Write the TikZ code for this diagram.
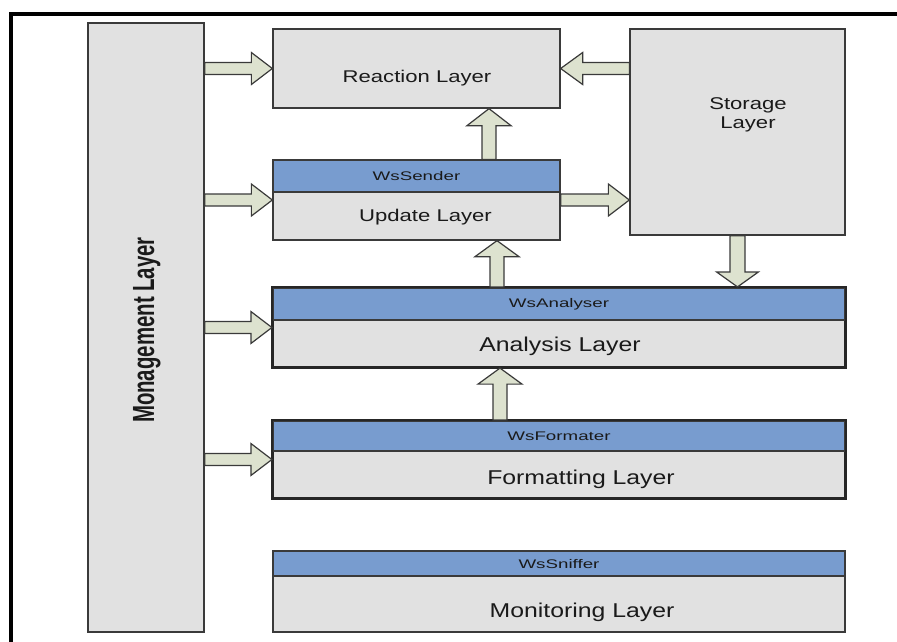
\documentclass[tikz,border=0pt]{standalone}
\usepackage{fontspec}
\setmainfont{Liberation Sans}
\newfontfamily\wideface[FakeStretch=1.3]{Liberation Sans}
\newfontfamily\midface[FakeStretch=1.24]{Liberation Sans}
\newfontfamily\hdrface[FakeStretch=1.5]{Liberation Sans}
\usetikzlibrary{calc}

\definecolor{boxgray}{HTML}{E1E1E1}
\definecolor{hdrblue}{HTML}{789CCF}
\definecolor{arrowfill}{HTML}{DDE2CF}
\definecolor{edge}{HTML}{3A3A3A}
\definecolor{ink}{HTML}{1A1A1A}

% Outlined block arrow from coordinate #1 to tip #2:
% #3 shaft half-width, #4 head half-width, #5 head length
\newcommand\blockarrow[5]{%
  \coordinate (ba-h) at ($(#2)!#5!(#1)$);
  \draw[arrowbody]
    ($(#1)!#3!90:(#2)$) -- ($(ba-h)!#3!90:(#2)$) -- ($(ba-h)!#4!90:(#2)$)
    -- (#2)
    -- ($(ba-h)!#4!-90:(#2)$) -- ($(ba-h)!#3!-90:(#2)$) -- ($(#1)!#3!-90:(#2)$)
    -- cycle;}

\begin{document}
\begin{tikzpicture}[x=1pt,y=-1pt,
  layerbox/.style={draw=edge, fill=boxgray, line width=1.3pt, inner sep=0pt},
  heavybox/.style={layerbox, draw=black!85, line width=2.2pt},
  hdrbox/.style={draw=edge, fill=hdrblue, line width=1.3pt, inner sep=0pt},
  biglabel/.style={anchor=base, inner sep=0pt, text=ink, font=\wideface\fontsize{17}{19}\selectfont},
  midlabel/.style={anchor=base, inner sep=0pt, text=ink, font=\midface\fontsize{20}{22}\selectfont},
  hdrlabel/.style={anchor=base, inner sep=0pt, text=ink, font=\hdrface\fontsize{12.5}{14}\selectfont},
  arrowbody/.style={fill=arrowfill, draw=edge, line width=1.2pt, line join=miter}]

\useasboundingbox (0,0) rectangle (897,642);

% page frame (top and left edges only)
\draw[line width=4pt, line join=miter] (10.5,642) -- (10.5,14.5) -- (897,14.5);

% management column
\node[layerbox, minimum width=116pt, minimum height=609pt] (mgmt) at (146,327.5) {};
\node[rotate=90, anchor=base, inner sep=0pt, text=ink,
      font=\fontsize{20.4}{22}\selectfont\bfseries] (mgmt-t) at (154,330)
      {\scalebox{1}[1.5]{Monagement Layer}};

% reaction layer
\node[layerbox, minimum width=287pt, minimum height=79pt] (react) at (416.5,68.5) {};
\node[biglabel] (react-t) at (417,82) {Reaction Layer};

% storage layer
\node[layerbox, minimum width=215pt, minimum height=206pt] (stor) at (737.5,132) {};
\node[inner sep=0pt, text=ink, align=center, font=\wideface\fontsize{17}{19}\selectfont]
      (stor-t) at (748,115) {Storage\\Layer};

% update layer
\node[layerbox, minimum width=287pt, minimum height=80pt] (updt) at (416.5,200) {};
\node[hdrbox, minimum width=287pt, minimum height=32pt] (updt-h) at (416.5,176) {};
\node[hdrlabel] (updt-ht) at (416.5,180) {WsSender};
\node[biglabel] (updt-t) at (425.5,221.5) {Update Layer};

% analysis layer
\node[heavybox, minimum width=572pt, minimum height=79pt] (anal) at (559,327.5) {};
\node[hdrbox, minimum width=572pt, minimum height=32pt] (anal-h) at (559,304) {};
\draw[black!85, line width=2.2pt] (anal.north west) rectangle (anal.south east);
\node[hdrlabel] (anal-ht) at (559,307.5) {WsAnalyser};
\node[midlabel] (anal-t) at (560,351) {Analysis Layer};

% formatting layer
\node[heavybox, minimum width=572pt, minimum height=77pt] (fmt) at (559,459.5) {};
\node[hdrbox, minimum width=572pt, minimum height=30pt] (fmt-h) at (559,436) {};
\draw[black!85, line width=2.2pt] (fmt.north west) rectangle (fmt.south east);
\node[hdrlabel] (fmt-ht) at (559,440.5) {WsFormater};
\node[midlabel] (fmt-t) at (581,484) {Formatting Layer};

% monitoring layer
\node[layerbox, line width=1.6pt, minimum width=572pt, minimum height=81pt] (mon) at (559,591.5) {};
\node[hdrbox, minimum width=572pt, minimum height=25pt] (mon-h) at (559,563.5) {};
\node[hdrlabel] (mon-ht) at (559,568.3) {WsSniffer};
\node[midlabel] (mon-t) at (582,617) {Monitoring Layer};

% horizontal block arrows
\coordinate (m1) at (react.west -| mgmt.east);
\coordinate (m2) at (updt.west -| mgmt.east);
\coordinate (m3) at (anal.west -| mgmt.east);
\coordinate (m4) at (fmt.west -| mgmt.east);
\blockarrow{m1}{react.west}{6pt}{16pt}{21pt}
\blockarrow{m2}{updt.west}{6pt}{16pt}{21pt}
\blockarrow{m3}{anal.west}{6pt}{16pt}{21pt}
\blockarrow{m4}{fmt.west}{6pt}{16pt}{21pt}

\coordinate (s1) at (react.east -| stor.west);
\blockarrow{s1}{react.east}{6pt}{16pt}{22pt}
\coordinate (s2) at (updt.east -| stor.west);
\blockarrow{updt.east}{s2}{6pt}{16pt}{21pt}

% vertical block arrows
\coordinate (v1s) at ($(updt.north)+(72.5,0)$);
\coordinate (v1t) at (v1s |- react.south);
\blockarrow{v1s}{v1t}{7pt}{22pt}{17pt}
\coordinate (v2s) at ($(anal.north)+(-62,0)$);
\coordinate (v2t) at (v2s |- updt.south);
\blockarrow{v2s}{v2t}{7pt}{22pt}{16pt}
\coordinate (v3s) at ($(fmt.north)+(-59,0)$);
\coordinate (v3t) at (v3s |- anal.south);
\blockarrow{v3s}{v3t}{7pt}{22pt}{16pt}
\coordinate (v4t) at (stor.south |- anal.north);
\blockarrow{stor.south}{v4t}{7.5pt}{21pt}{15pt}

\end{tikzpicture}
\end{document}
